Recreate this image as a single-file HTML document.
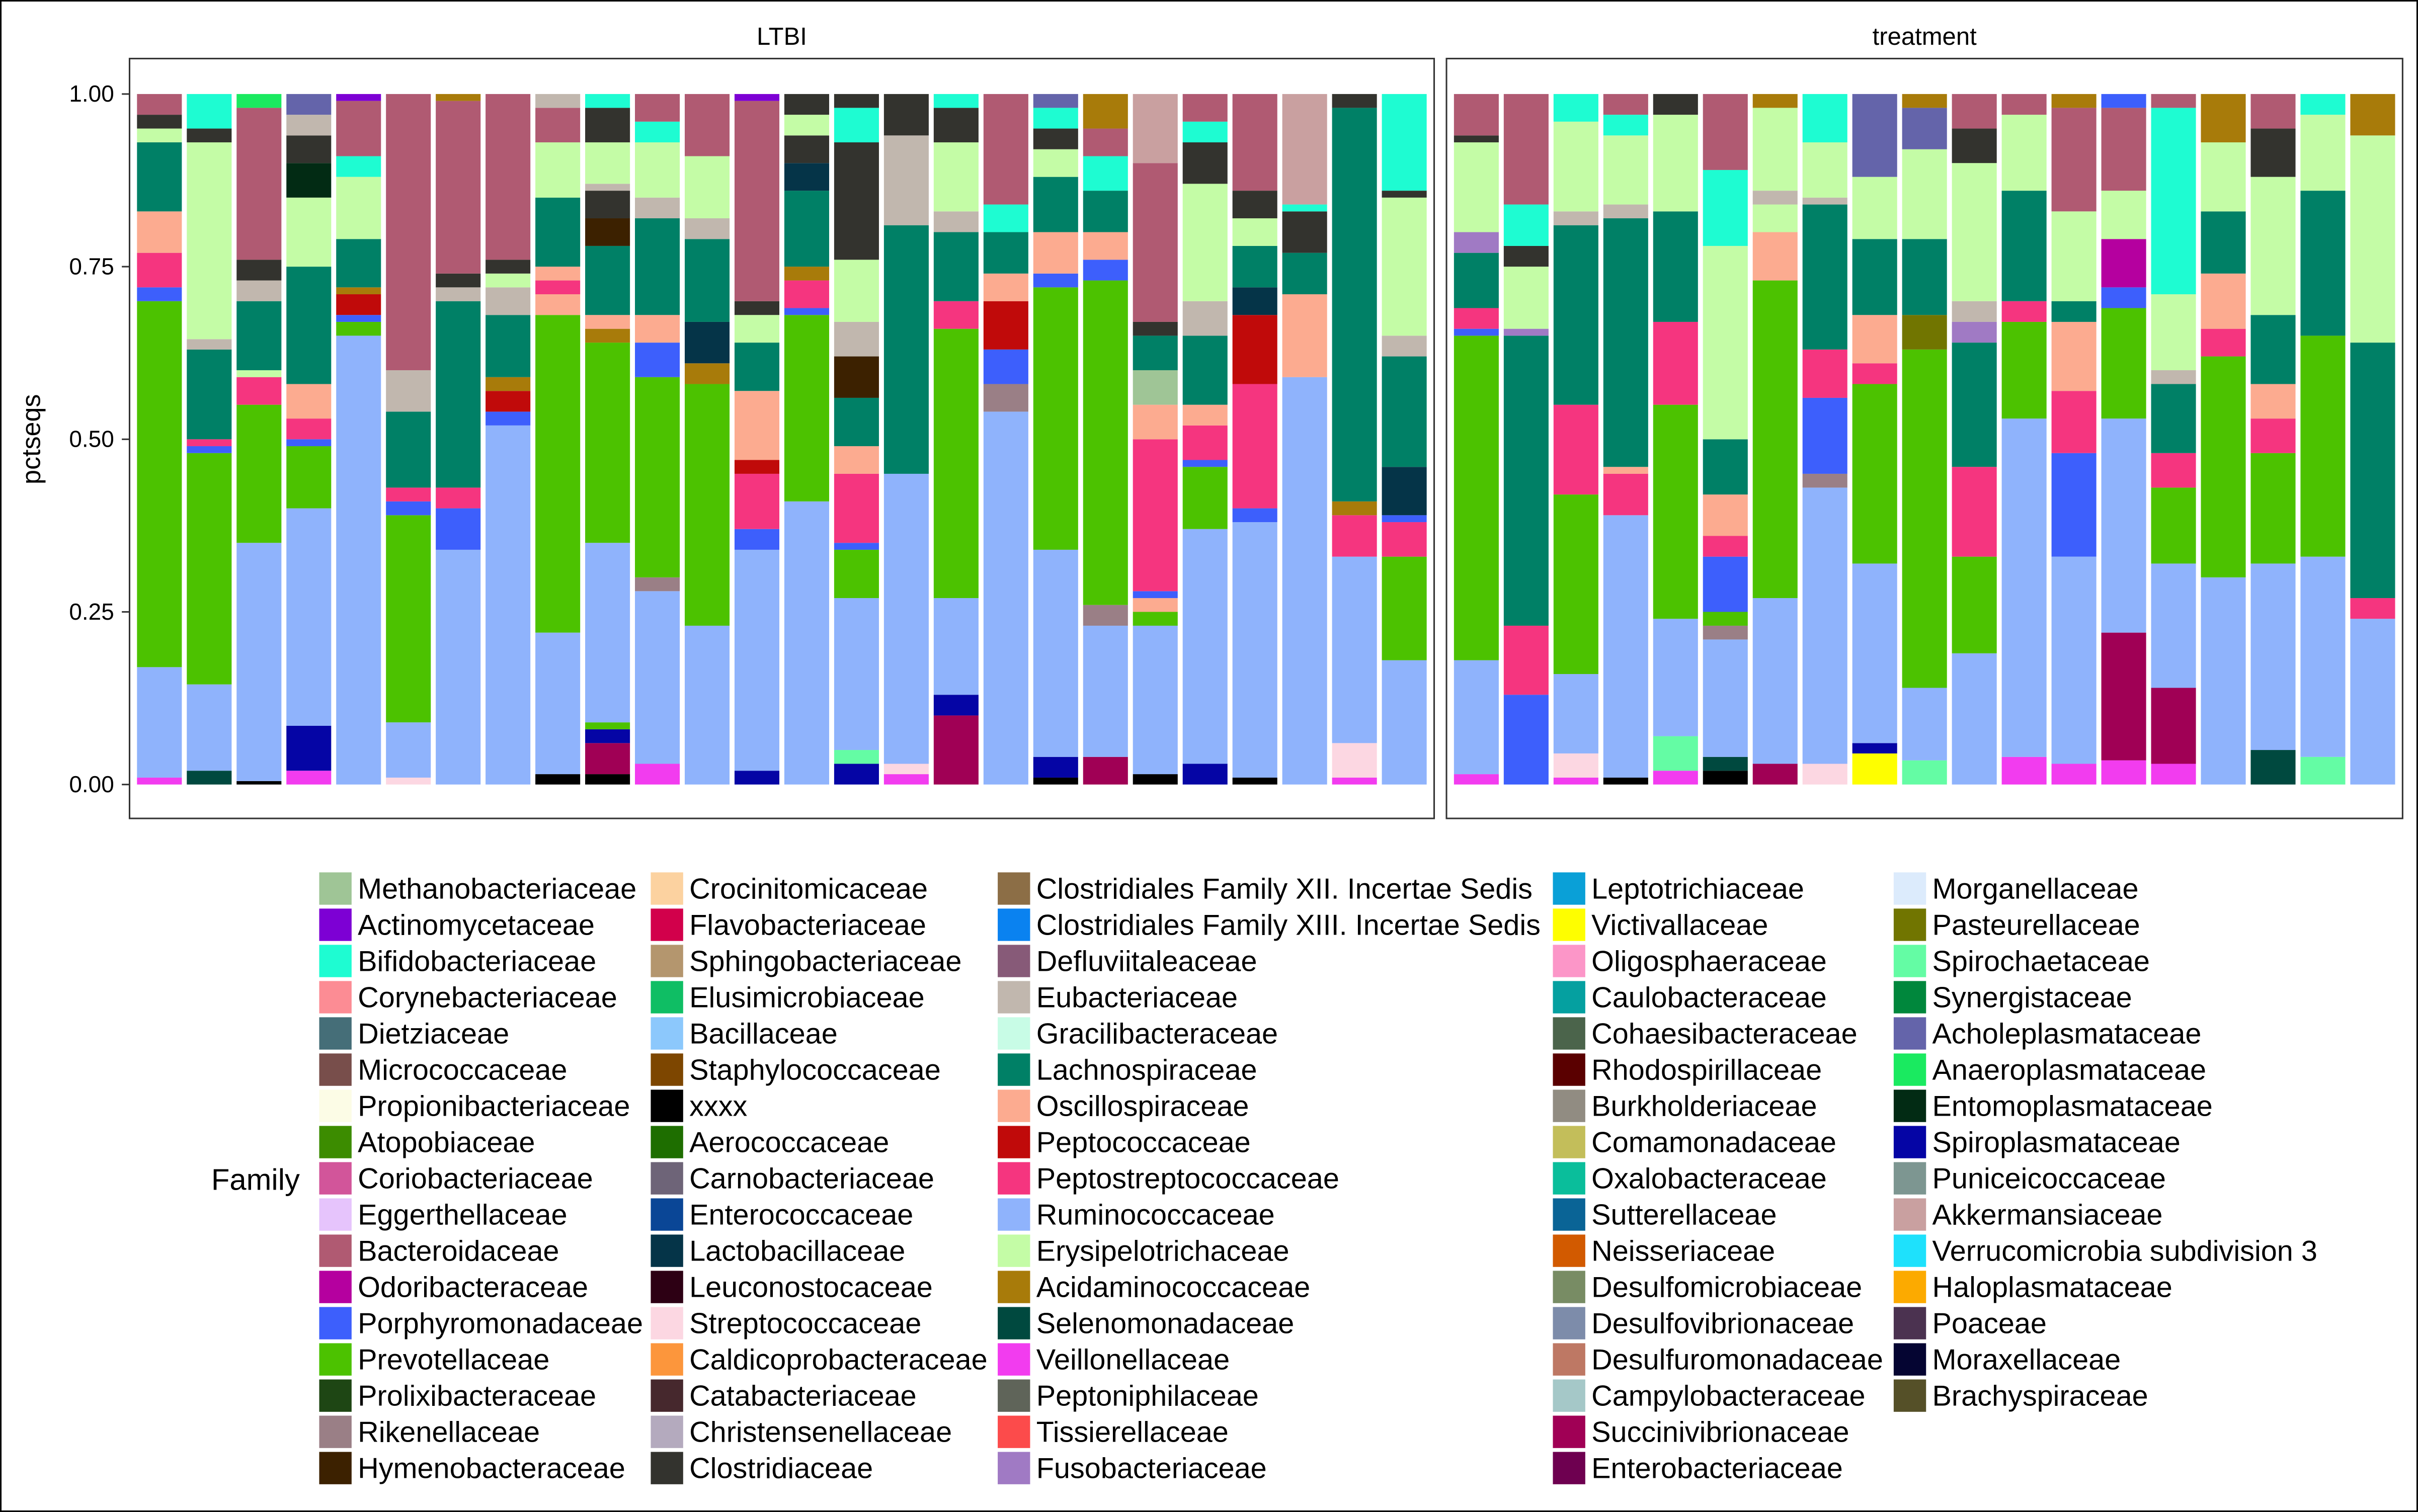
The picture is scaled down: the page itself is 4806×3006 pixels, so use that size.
<!DOCTYPE html>
<html><head><meta charset="utf-8"><style>
html,body{margin:0;padding:0;background:#fff}
svg{display:block}
text{font-family:"Liberation Sans",sans-serif;fill:#000}
</style></head><body>
<svg id="chart" xmlns="http://www.w3.org/2000/svg" width="4806" height="3006" viewBox="0 0 1568 981" preserveAspectRatio="none">
<rect x="0.5" y="0.5" width="1567" height="980" fill="#fff" stroke="#000" stroke-width="1"/>
<g id="panels"></g>
<g id="legend"></g>
</svg>
<script>
// ---- DATA ----
const familyNames = ["Methanobacteriaceae","Actinomycetaceae","Bifidobacteriaceae","Corynebacteriaceae","Dietziaceae","Micrococcaceae","Propionibacteriaceae","Atopobiaceae","Coriobacteriaceae","Eggerthellaceae","Bacteroidaceae","Odoribacteraceae","Porphyromonadaceae","Prevotellaceae","Prolixibacteraceae","Rikenellaceae","Hymenobacteraceae",
"Crocinitomicaceae","Flavobacteriaceae","Sphingobacteriaceae","Elusimicrobiaceae","Bacillaceae","Staphylococcaceae","xxxx","Aerococcaceae","Carnobacteriaceae","Enterococcaceae","Lactobacillaceae","Leuconostocaceae","Streptococcaceae","Caldicoprobacteraceae","Catabacteriaceae","Christensenellaceae","Clostridiaceae",
"Clostridiales Family XII. Incertae Sedis","Clostridiales Family XIII. Incertae Sedis","Defluviitaleaceae","Eubacteriaceae","Gracilibacteraceae","Lachnospiraceae","Oscillospiraceae","Peptococcaceae","Peptostreptococcaceae","Ruminococcaceae","Erysipelotrichaceae","Acidaminococcaceae","Selenomonadaceae","Veillonellaceae","Peptoniphilaceae","Tissierellaceae","Fusobacteriaceae",
"Leptotrichiaceae","Victivallaceae","Oligosphaeraceae","Caulobacteraceae","Cohaesibacteraceae","Rhodospirillaceae","Burkholderiaceae","Comamonadaceae","Oxalobacteraceae","Sutterellaceae","Neisseriaceae","Desulfomicrobiaceae","Desulfovibrionaceae","Desulfuromonadaceae","Campylobacteraceae","Succinivibrionaceae","Enterobacteriaceae",
"Morganellaceae","Pasteurellaceae","Spirochaetaceae","Synergistaceae","Acholeplasmataceae","Anaeroplasmataceae","Entomoplasmataceae","Spiroplasmataceae","Puniceicoccaceae","Akkermansiaceae","Verrucomicrobia subdivision 3","Haloplasmataceae","Poaceae","Moraxellaceae","Brachyspiraceae"];
const familyColors = ["#9fc596","#7d00d4","#1efcd2","#fc8c94","#456e78","#784e4b","#fcfce6","#3c8c00","#d2559a","#e6c4fc","#b05a72","#b5009f","#3d5ffc","#4cc200","#1e4614","#9a7f86","#3c2100",
"#fcd2a0","#d2004b","#b4966e","#0fbe64","#8cc8fc","#7d4600","#000000","#1e6e00","#6e6478","#0a4696","#053448","#2d0014","#fcd7e2","#fc963c","#46282d","#b4aabe","#33332e",
"#8c6e46","#0a82f0","#875a78","#c1b7ae","#c8fce6","#008066","#fcab90","#c00a0a","#f5357f","#8fb3fc","#c4fca6","#a87b0a","#00493f","#f23cef","#5f6459","#fc4b4b","#a07ac4",
"#0aa0d7","#fefe00","#fc96c8","#05a0a0","#4b644b","#5a0000","#918c82","#c3be5a","#0abe9b","#0a6496","#d25a00","#788c64","#7d8caa","#be7864","#a5c8c8","#a00055","#6e0050",
"#dcebfc","#717500","#64fca4","#00873c","#6464aa","#1aea60","#022b14","#0505a5","#7d9691","#c9a0a0","#1ee1fc","#fcaa00","#4b3250","#050532","#555028"];
const codes = {Ru:"Ruminococcaceae",Pr:"Prevotellaceae",La:"Lachnospiraceae",Er:"Erysipelotrichaceae",Ba:"Bacteroidaceae",Pe:"Peptostreptococcaceae",Os:"Oscillospiraceae",Bi:"Bifidobacteriaceae",Cl:"Clostridiaceae",Po:"Porphyromonadaceae",Eu:"Eubacteriaceae",Ak:"Akkermansiaceae",Pc:"Peptococcaceae",Su:"Succinivibrionaceae",Ve:"Veillonellaceae",Sp:"Spiroplasmataceae",Ac:"Acidaminococcaceae",Xx:"xxxx",Se:"Selenomonadaceae",Ri:"Rikenellaceae",St:"Streptococcaceae",Sc:"Spirochaetaceae",Hy:"Hymenobacteraceae",Lb:"Lactobacillaceae",Me:"Methanobacteriaceae",Ah:"Acholeplasmataceae",Em:"Entomoplasmataceae",An:"Anaeroplasmataceae",Ay:"Actinomycetaceae",Fu:"Fusobacteriaceae",Vi:"Victivallaceae",Pa:"Pasteurellaceae",Od:"Odoribacteraceae"};
// cumulative stack tops (bottom -> top), "code:top"
const ltbiBars = [
"Ve:.01 Ru:.17 Pr:.70 Po:.72 Pe:.77 Os:.83 La:.93 Er:.95 Cl:.97 Ba:1",
"Se:.02 Ru:.145 Pr:.48 Po:.49 Pe:.50 La:.63 Eu:.645 Er:.93 Cl:.95 Bi:1",
"Xx:.005 Ru:.35 Pr:.55 Pe:.59 Er:.60 La:.70 Eu:.73 Cl:.76 Ba:.98 An:1",
"Ve:.02 Sp:.085 Ru:.40 Pr:.49 Po:.50 Pe:.53 Os:.58 La:.75 Er:.85 Em:.90 Cl:.94 Eu:.97 Ah:1",
"Ru:.65 Pr:.67 Po:.68 Pc:.71 Ac:.72 La:.79 Er:.88 Bi:.91 Ba:.99 Ay:1",
"St:.01 Ru:.09 Pr:.39 Po:.41 Pe:.43 La:.54 Eu:.60 Ba:1",
"Ru:.34 Po:.40 Pe:.43 La:.70 Eu:.72 Cl:.74 Ba:.99 Ac:1",
"Ru:.52 Po:.54 Pc:.57 Ac:.59 La:.68 Eu:.72 Er:.74 Cl:.76 Ba:1",
"Xx:.015 Ru:.22 Pr:.68 Os:.71 Pe:.73 Os:.75 La:.85 Er:.93 Ba:.98 Eu:1",
"Xx:.015 Su:.06 Sp:.08 Pr:.09 Ru:.35 Pr:.64 Ac:.66 Os:.68 La:.78 Hy:.82 Cl:.86 Eu:.87 Er:.93 Cl:.98 Bi:1",
"Ve:.03 Ru:.28 Ri:.30 Pr:.59 Po:.64 Os:.68 La:.82 Eu:.85 Er:.93 Bi:.96 Ba:1",
"Ru:.23 Pr:.58 Ac:.61 Lb:.67 La:.79 Eu:.82 Er:.91 Ba:1",
"Sp:.02 Ru:.34 Po:.37 Pe:.45 Pc:.47 Os:.57 La:.64 Er:.68 Cl:.70 Ba:.99 Ay:1",
"Ru:.41 Pr:.68 Po:.69 Pe:.73 Ac:.75 La:.86 Lb:.90 Cl:.94 Er:.97 Cl:1",
"Sp:.03 Sc:.05 Ru:.27 Pr:.34 Po:.35 Pe:.45 Os:.49 La:.56 Hy:.62 Eu:.67 Er:.76 Cl:.93 Bi:.98 Cl:1",
"Ve:.015 St:.03 Ru:.45 La:.81 Eu:.94 Cl:1",
"Su:.10 Sp:.13 Ru:.27 Pr:.66 Pe:.70 La:.80 Eu:.83 Er:.93 Cl:.98 Bi:1",
"Ru:.54 Ri:.58 Po:.63 Pc:.70 Os:.74 La:.80 Bi:.84 Ba:1",
"Xx:.01 Sp:.04 Ru:.34 Pr:.72 Po:.74 Os:.80 La:.88 Er:.92 Cl:.95 Bi:.98 Ah:1",
"Su:.04 Ru:.23 Ri:.26 Pr:.73 Po:.76 Os:.80 La:.86 Bi:.91 Ba:.95 Ac:1",
"Xx:.015 Ru:.23 Pr:.25 Os:.27 Po:.28 Pe:.50 Os:.55 Me:.60 La:.65 Cl:.67 Ba:.90 Ak:1",
"Sp:.03 Ru:.37 Pr:.46 Po:.47 Pe:.52 Os:.55 La:.65 Eu:.70 Er:.87 Cl:.93 Bi:.96 Ba:1",
"Xx:.01 Ru:.38 Po:.40 Pe:.58 Pc:.68 Lb:.72 La:.78 Er:.82 Cl:.86 Ba:1",
"Ru:.59 Os:.71 La:.77 Cl:.83 Bi:.84 Ak:1",
"Ve:.01 St:.06 Ru:.33 Pe:.39 Ac:.41 La:.98 Cl:1",
"Ru:.18 Pr:.33 Pe:.38 Po:.39 Lb:.46 La:.62 Eu:.65 Er:.85 Cl:.86 Bi:1"];
const treatBars = [
"Ve:.015 Ru:.18 Pr:.65 Po:.66 Pe:.69 La:.77 Fu:.80 Er:.93 Cl:.94 Ba:1",
"Po:.13 Pe:.23 La:.65 Fu:.66 Er:.75 Cl:.78 Bi:.84 Ba:1",
"Ve:.01 St:.045 Ru:.16 Pr:.42 Pe:.55 La:.81 Eu:.83 Er:.96 Bi:1",
"Xx:.01 Ru:.39 Pe:.45 Os:.46 La:.82 Eu:.84 Er:.94 Bi:.97 Ba:1",
"Ve:.02 Sc:.07 Ru:.24 Pr:.55 Pe:.67 La:.83 Er:.97 Cl:1",
"Xx:.02 Se:.04 Ru:.21 Ri:.23 Pr:.25 Po:.33 Pe:.36 Os:.42 La:.50 Er:.78 Bi:.89 Ba:1",
"Su:.03 Ru:.27 Pr:.73 Os:.80 Er:.84 Eu:.86 Er:.98 Ac:1",
"St:.03 Ru:.43 Ri:.45 Po:.56 Pe:.63 La:.84 Eu:.85 Er:.93 Bi:1",
"Vi:.045 Sp:.06 Ru:.32 Pr:.58 Pe:.61 Os:.68 La:.79 Er:.88 Ah:1",
"Sc:.035 Ru:.14 Pr:.63 Pa:.68 La:.79 Er:.92 Ah:.98 Ac:1",
"Ru:.19 Pr:.33 Pe:.46 La:.64 Fu:.67 Eu:.70 Er:.90 Cl:.95 Ba:1",
"Ve:.04 Ru:.53 Pr:.67 Pe:.70 La:.86 Er:.97 Ba:1",
"Ve:.03 Ru:.33 Po:.48 Pe:.57 Os:.67 La:.70 Er:.83 Ba:.98 Ac:1",
"Ve:.035 Su:.22 Ru:.53 Pr:.69 Po:.72 Od:.79 Er:.86 Ba:.98 Po:1",
"Ve:.03 Su:.14 Ru:.32 Pr:.43 Pe:.48 La:.58 Eu:.60 Er:.71 Bi:.98 Ba:1",
"Ru:.30 Pr:.62 Pe:.66 Os:.74 La:.83 Er:.93 Ac:1",
"Se:.05 Ru:.32 Pr:.48 Pe:.53 Os:.58 La:.68 Er:.88 Cl:.95 Ba:1",
"Sc:.04 Ru:.33 Pr:.65 La:.86 Er:.97 Bi:1",
"Ru:.24 Pe:.27 La:.64 Er:.94 Ac:1"];
const yTicks = [0, 0.25, 0.5, 0.75, 1.0];
const yTickLabels = ["0.00","0.25","0.50","0.75","1.00"];
const panelTitles = ["LTBI","treatment"];

// ---- DRAW ----
const NS = "http://www.w3.org/2000/svg";
const colorOf = {};
familyNames.forEach((n,i)=>colorOf[n]=familyColors[i]);
function mk(tag, attrs, parent){const e=document.createElementNS(NS,tag);for(const k in attrs)e.setAttribute(k,attrs[k]);parent.appendChild(e);return e;}
const panelsG = document.getElementById('panels');
const yTop = 61, yBot = 509;
function yScale(v){return yBot - (yBot - yTop) * v;}
const panels = [{x0:84,w:846,bars:ltbiBars},{x0:938,w:620,bars:treatBars}];

panels.forEach((p,pi)=>{
  const g = mk('g',{},panelsG);
  
  
  const bg = mk('rect',{x:p.x0,y:38,width:p.w,height:493,fill:'#fff',stroke:'#333','stroke-width':1},g);
  
  
  const st = mk('text',{x:p.x0+p.w/2,y:29,'text-anchor':'middle','font-size':16},g);
  st.textContent = panelTitles[pi];
  
  
  const n = p.bars.length;
  const unit = p.w/(n-1+1.2);
  const bw = unit*0.9;
  p.bars.forEach((s,bi)=>{
    const cx = p.x0 + (0.6+bi)*unit;
    let prev = 0;
    s.trim().split(/\s+/).forEach(tok=>{
      const [c,v] = tok.split(':');
      const top = parseFloat(v);
      const fam = codes[c];
      const r = mk('rect',{x:cx-bw/2,y:yScale(top),width:bw,height:Math.max(0,yScale(prev)-yScale(top)),fill:colorOf[fam]},g);
      
      
      prev = top;
    });
  });
});
// y axis
const ax = mk('g',{},panelsG);


yTicks.forEach((t,i)=>{
  const y = yScale(t);
  mk('line',{x1:79,x2:84,y1:y,y2:y,stroke:'#333','stroke-width':1},ax);
  const tx = mk('text',{x:74,y:y+5,'text-anchor':'end','font-size':15},ax);
  tx.textContent = yTickLabels[i];
  
  
});
const yt = mk('text',{x:26,y:285,'text-anchor':'middle','font-size':17,transform:'rotate(-90 26 285)'},ax);
yt.textContent = 'pctseqs';



// legend
const lg = document.getElementById('legend');


const lt = mk('text',{x:137,y:772,'font-size':19.5},lg);
lt.textContent = 'Family';


const colX = [207,422,647,1007,1228];
familyNames.forEach((n,i)=>{
  const col = Math.floor(i/17), row = i%17;
  const x = colX[col], y = 566 + row*23.5;
  const e = mk('g',{},lg);
  
  
  mk('rect',{x:x,y:y,width:21,height:21,fill:familyColors[i]},e);
  const t = mk('text',{x:x+25,y:y+17,'font-size':18.8},e);
  t.textContent = n;
});
</script>
</body></html>
